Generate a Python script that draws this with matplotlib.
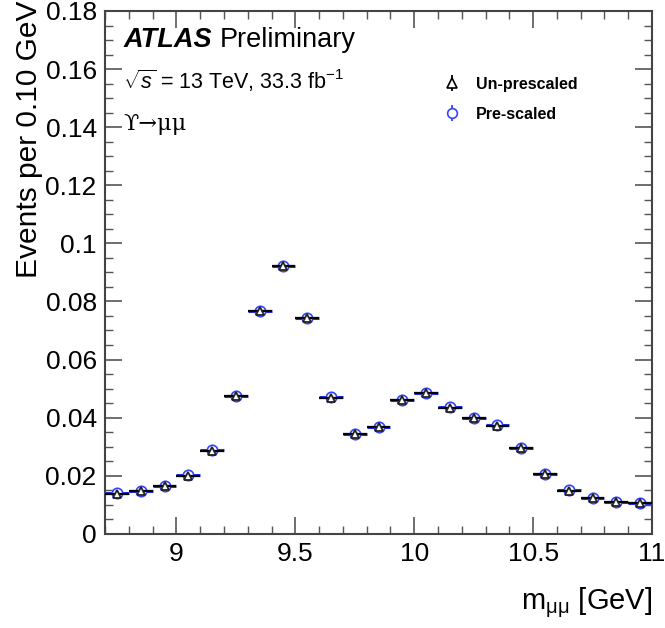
import numpy as np
import matplotlib
matplotlib.use("Agg")
import matplotlib.pyplot as plt
from matplotlib.ticker import MultipleLocator, FixedLocator

plt.rcParams['font.family'] = ['Liberation Sans', 'DejaVu Sans']
plt.rcParams['mathtext.fontset'] = 'custom'
plt.rcParams['mathtext.rm'] = 'Liberation Sans'
plt.rcParams['mathtext.it'] = 'Liberation Sans:italic'

bin_centers = [8.75, 8.85, 8.95, 9.05, 9.15, 9.25, 9.35, 9.45, 9.55, 9.65, 9.75, 9.85,
               9.95, 10.05, 10.15, 10.25, 10.35, 10.45, 10.55, 10.65, 10.75, 10.85, 10.95]
unprescaled = [0.0138, 0.0146, 0.0163, 0.0200, 0.0286, 0.0475, 0.0767, 0.0921, 0.0742, 0.0469,
               0.0344, 0.0367, 0.0460, 0.0485, 0.0434, 0.0398, 0.0372, 0.0294, 0.0205, 0.0149,
               0.0123, 0.0109, 0.0106]
prescaled = [0.0139, 0.0147, 0.0164, 0.0201, 0.0287, 0.0476, 0.0768, 0.0922, 0.0743, 0.0470,
             0.0345, 0.0368, 0.0461, 0.0486, 0.0435, 0.0399, 0.0373, 0.0295, 0.0206, 0.0150,
             0.0124, 0.0110, 0.0107]
bin_half_width = 0.05
labels = ["Un-prescaled", "Pre-scaled"]
xtick_vals = [9, 9.5, 10, 10.5, 11]
xtick_labels = ['9', '9.5', '10', '10.5', '11']
ytick_vals = [0, 0.02, 0.04, 0.06, 0.08, 0.1, 0.12, 0.14, 0.16, 0.18]
ytick_labels = ['0', '0.02', '0.04', '0.06', '0.08', '0.1', '0.12', '0.14', '0.16', '0.18']

fig = plt.figure(figsize=(6.65, 6.28), dpi=100)
ax = fig.add_axes([0.158, 0.150, 0.8225, 0.8325])

ax.errorbar(bin_centers, prescaled, xerr=bin_half_width, fmt='o', ms=7.5, mfc='white',
            mec='#3344ff', mew=1.2, ecolor='#2233ee', elinewidth=2.2, capsize=0, zorder=2)
ax.errorbar(bin_centers, unprescaled, xerr=bin_half_width, fmt='^', ms=6, mfc='white',
            mec='#222222', mew=1.3, ecolor='black', elinewidth=1.6, capsize=0, zorder=3)

# legend proxies
h1 = ax.errorbar([np.nan], [np.nan], yerr=[1], fmt='^', ms=6.5, mfc='white', mec='black',
                 mew=1.2, ecolor='black', elinewidth=1.3, capsize=0)
h2 = ax.errorbar([np.nan], [np.nan], yerr=[1], fmt='o', ms=7, mfc='white', mec='#3344ff',
                 mew=1.2, ecolor='#3344ff', elinewidth=1.3, capsize=0)
leg = ax.legend([h1, h2], labels, loc='upper left', bbox_to_anchor=(0.59, 0.902),
                frameon=False, prop={'weight': 'bold', 'size': 11.5}, handlelength=1.2,
                labelspacing=0.95, handletextpad=0.9)

ax.set_xlim(8.7, 11)
ax.set_ylim(0, 0.18)
ax.xaxis.set_major_locator(FixedLocator(xtick_vals))
ax.xaxis.set_minor_locator(MultipleLocator(0.1))
ax.yaxis.set_minor_locator(MultipleLocator(0.005))
ax.set_xticks(xtick_vals)
ax.set_xticklabels(xtick_labels)
ax.set_yticks(ytick_vals)
ax.set_yticklabels(ytick_labels)
ax.tick_params(which='both', direction='in', top=True, right=True, labelsize=19, color='#555555')
ax.tick_params(which='major', length=12, width=1.2, pad=6)
ax.tick_params(which='minor', length=6, width=1.0)
for s in ax.spines.values():
    s.set_linewidth(1.5)
    s.set_color('#444444')

ax.set_ylabel('Events per 0.10 GeV', fontsize=21.5, loc='top', labelpad=2)
ax.set_xlabel(r'm$_{\mathregular{μμ}}$ [GeV]', fontsize=21, loc='right', labelpad=14)
ax.yaxis.label.set_y(1.02)

ax.text(0.033, 0.945, 'ATLAS', transform=ax.transAxes, fontsize=19.5, fontweight='bold',
        fontstyle='italic', va='center')
ax.text(0.21, 0.945, 'Preliminary', transform=ax.transAxes, fontsize=19.5, va='center')
ax.text(0.033, 0.867, r'$\sqrt{s}$ = 13 TeV, 33.3 fb$^{\mathregular{-1}}$', transform=ax.transAxes,
        fontsize=15.5, va='center')
ax.text(0.033, 0.783, 'ϒ→μμ', transform=ax.transAxes, fontsize=16, va='center',
        family=['DejaVu Serif', 'Liberation Serif'])

fig.savefig('out.png', dpi=100)
